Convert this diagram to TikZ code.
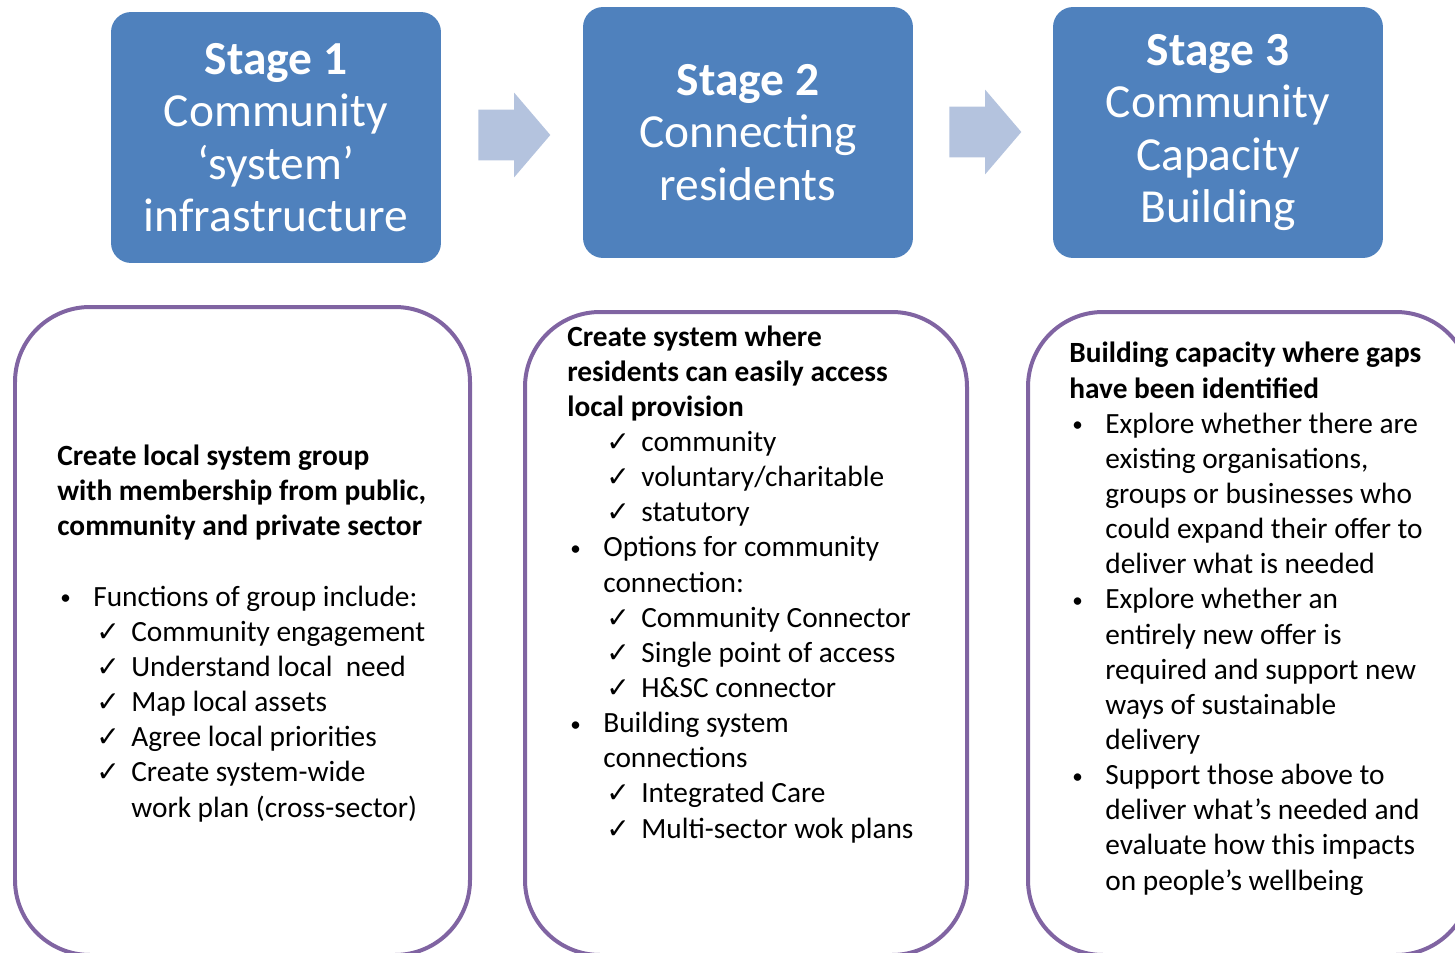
\documentclass[tikz,border=0pt]{standalone}
\usepackage{fontspec}
\setmainfont{Carlito}
\newfontfamily\symfont{DejaVu Sans}
\usetikzlibrary{shapes.arrows}
\definecolor{stageblue}{HTML}{4F81BD}
\definecolor{flowblue}{HTML}{B4C3DE}
\definecolor{panelpurple}{HTML}{8064A2}
\newlength\pu
\setlength\pu{0.02cm}
\newcommand\bul[1]{\hspace*{3\pu}\makebox[33\pu][l]{\fontsize{12}{12}\selectfont\raisebox{1.5\pu}{•}}#1}
\newcommand\bulc[1]{\hspace*{36\pu}#1}
\newcommand\chk[1]{\hspace*{39\pu}\makebox[35\pu][l]{\symfont\fontsize{16}{16}\selectfont ✓}#1}
\newcommand\chkc[1]{\hspace*{74\pu}#1}
\tikzstyle{stage} = [fill=stageblue, rounded corners=0.4cm, minimum width=6.6cm, minimum height=5.02cm, text=white, align=center, font=\fontsize{27}{29.9}\selectfont]
\tikzstyle{flow} = [single arrow, fill=flowblue, inner xsep=0pt, inner ysep=0.5cm, minimum height=1.44cm, single arrow head extend=0.34cm, single arrow tip angle=99]
\tikzstyle{panel} = [draw=panelpurple, line width=0.08cm, rounded corners=1.5cm]
\tikzstyle{body} = [anchor=base west, inner sep=0pt, align=left, font=\fontsize{16.7}{20}\selectfont]

\begin{document}
\begin{tikzpicture}[x=0.02cm,y=-0.02cm]
	  \useasboundingbox (0,0) rectangle (1455,953);
	  \clip (0,0) rectangle (1455,953);

	  \node (s1) at (276,137.5) [stage] {\textbf{Stage 1}\\Community\\‘system’\\infrastructure};
	  \node (s2) at (748,132.5) [stage] {\textbf{Stage 2}\\Connecting\\residents};
	  \node (s3) at (1218,132.5) [stage] {\textbf{Stage 3}\\Community\\Capacity\\Building};

	  \node (a1) at (503.5,135) [flow] {};
	  \node (a2) at (974.5,132) [flow] {};

	  \draw [panel] (15,307) rectangle (470,955);
	  \draw [panel] (525,312) rectangle (967,955);
	  \draw [panel] (1028,312) rectangle (1471,955);

	  \node (t1) at (57,817) [body] {%
	    \textbf{Create local system group}\\
	    \textbf{with membership from public,}\\
	    \textbf{community and private sector}\\
	    \mbox{}\\
	    \bul{Functions of group include:}\\
	    \chk{Community engagement}\\
	    \chk{Understand local\ \ need}\\
	    \chk{Map local assets}\\
	    \chk{Agree local priorities}\\
	    \chk{Create system-wide}\\
	    \chkc{work plan (cross-sector)}};
	  \node (t2) at (567,838) [body] {%
	    \textbf{Create system where}\\
	    \textbf{residents can easily access}\\
	    \textbf{local provision}\\
	    \chk{community}\\
	    \chk{voluntary/charitable}\\
	    \chk{statutory}\\
	    \bul{Options for community}\\
	    \bulc{connection:}\\
	    \chk{Community Connector}\\
	    \chk{Single point of access}\\
	    \chk{H\&SC connector}\\
	    \bul{Building system}\\
	    \bulc{connections}\\
	    \chk{Integrated Care}\\
	    \chk{Multi-sector wok plans}};
	  \node (t3) at (1069,890) [body] {%
	    \textbf{Building capacity where gaps}\\
	    \textbf{have been identified}\\
	    \bul{Explore whether there are}\\
	    \bulc{existing organisations,}\\
	    \bulc{groups or businesses who}\\
	    \bulc{could expand their offer to}\\
	    \bulc{deliver what is needed}\\
	    \bul{Explore whether an}\\
	    \bulc{entirely new offer is}\\
	    \bulc{required and support new}\\
	    \bulc{ways of sustainable}\\
	    \bulc{delivery}\\
	    \bul{Support those above to}\\
	    \bulc{deliver what’s needed and}\\
	    \bulc{evaluate how this impacts}\\
	    \bulc{on people’s wellbeing}};
\end{tikzpicture}
\end{document}
